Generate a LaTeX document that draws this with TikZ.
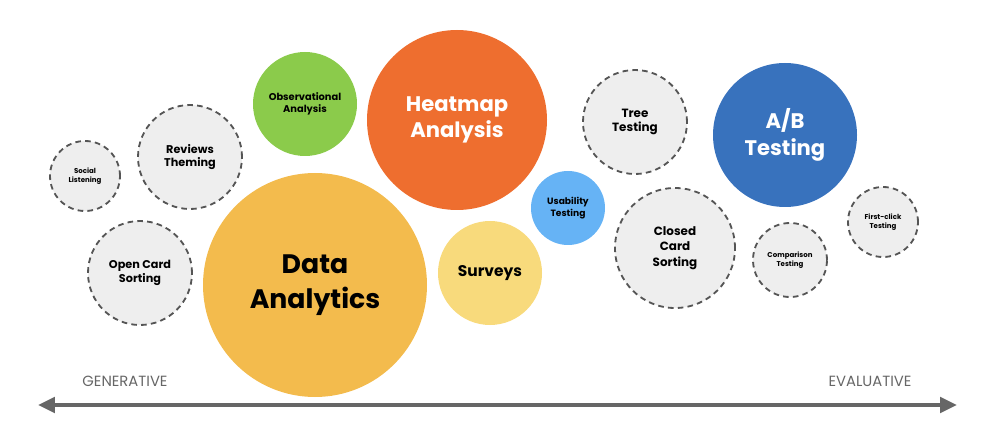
\documentclass[tikz,border=0pt]{standalone}
\usepackage{fontspec}
\setmainfont{Poppins}
\usetikzlibrary{arrows.meta}
\definecolor{dashGray}{HTML}{555555}
\definecolor{fillGray}{HTML}{EEEEEE}
\definecolor{greenObs}{HTML}{8BCB4B}
\definecolor{orangeHeat}{HTML}{EE6E2F}
\definecolor{yellowData}{HTML}{F3BB4D}
\definecolor{yellowSurv}{HTML}{F8DA7C}
\definecolor{blueUse}{HTML}{66B3F5}
\definecolor{blueAB}{HTML}{3872BD}
\definecolor{axisGray}{HTML}{666666}
\begin{document}
\begin{tikzpicture}[x=0.025cm,y=-0.025cm,
    method/.style={circle,draw=dashGray,fill=fillGray,line width=1.3pt,dash pattern=on 4pt off 3pt,
        align=center,inner sep=0,font=\bfseries,text=black},
    solid_method/.style={circle,draw=none,align=center,inner sep=0,font=\bfseries}
]
    \useasboundingbox (0,0) rectangle (1000,439);

    % --- dashed methods ---
    \node[method,minimum size=70*0.025cm,font=\bfseries\fontsize{5}{6}\selectfont] (social) at (85,176) {Social\\Listening};
    \node[method,minimum size=104*0.025cm,font=\bfseries\fontsize{8}{9.5}\selectfont] (reviews) at (190,157) {Reviews\\Theming};
    \node[method,minimum size=104*0.025cm,font=\bfseries\fontsize{8}{9.5}\selectfont] (opencard) at (140,273) {Open Card\\Sorting};
    \node[method,minimum size=104*0.025cm,font=\bfseries\fontsize{8.5}{10}\selectfont] (tree) at (635,122) {Tree\\Testing};
    \node[method,minimum size=120*0.025cm,font=\bfseries\fontsize{8.5}{11}\selectfont] (closedcard) at (675,248) {Closed\\Card\\Sorting};
    \node[method,minimum size=74*0.025cm,font=\bfseries\fontsize{5}{6}\selectfont] (comparison) at (790,260) {Comparison\\Testing};
    \node[method,minimum size=70*0.025cm,font=\bfseries\fontsize{5}{6}\selectfont] (firstclick) at (883,222) {First-click\\Testing};

    % --- filled methods ---
    \node[solid_method,fill=greenObs,minimum size=104*0.025cm,font=\bfseries\fontsize{7}{8.5}\selectfont] (obs) at (305,104) {Observational\\Analysis};
    \node[solid_method,fill=orangeHeat,text=white,minimum size=180*0.025cm,font=\bfseries\fontsize{15}{19}\selectfont] (heat) at (457,120) {Heatmap\\Analysis};
    \node[solid_method,fill=yellowData,minimum size=224*0.025cm,font=\bfseries\fontsize{19}{25}\selectfont] (data) at (315,285) {Data\\Analytics};
    \node[solid_method,fill=yellowSurv,minimum size=104*0.025cm,font=\bfseries\fontsize{11}{13}\selectfont] (surveys) at (490,273) {Surveys};
    \node[solid_method,fill=blueUse,minimum size=74*0.025cm,font=\bfseries\fontsize{6.5}{8}\selectfont] (usability) at (568,208) {Usability\\Testing};
    \node[solid_method,fill=blueAB,text=white,minimum size=144*0.025cm,font=\bfseries\fontsize{15}{19}\selectfont] (ab) at (785,135) {A/B\\Testing};

    % --- axis ---
    \coordinate (left) at (38,405);
    \coordinate (right) at (957,405);
    \draw[axisGray,line width=2.5pt,{Triangle[length=12pt,width=11pt]}-{Triangle[length=12pt,width=11pt]}] (left) -- (right);
    \node[text=axisGray,font=\fontsize{10.5}{12}\selectfont] (gen) at (125,381) {GENERATIVE};
    \node[text=axisGray,font=\fontsize{10.5}{12}\selectfont] (eval) at (870,381) {EVALUATIVE};
\end{tikzpicture}
\end{document}
